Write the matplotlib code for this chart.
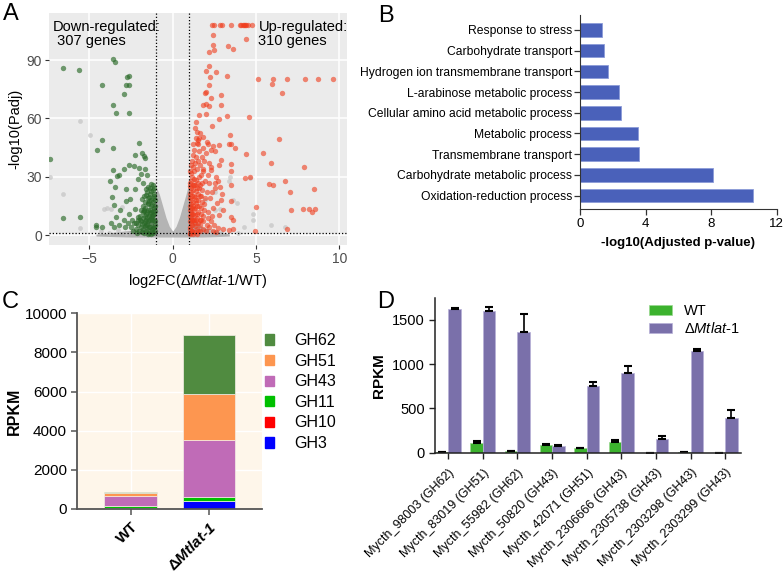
import numpy as np
import matplotlib.pyplot as plt
from matplotlib.patches import Patch

plt.rcParams['font.family'] = ['Liberation Sans', 'DejaVu Sans']
plt.rcParams['mathtext.fontset'] = 'custom'
plt.rcParams['mathtext.rm'] = 'Liberation Sans'
plt.rcParams['mathtext.it'] = 'Liberation Sans:italic'
plt.rcParams['mathtext.bf'] = 'Liberation Sans:bold'
plt.rcParams['mathtext.bfit'] = 'Liberation Sans:italic:bold'

# ---------------- A: volcano ----------------
down_pts = [(-6.6, 86), (-5.6, 85), (-3.6, 90.3), (-3.45, 89), (-2.72, 81.4), (-2.6, 81.6),
            (-4.25, 77.3), (-2.8, 77), (-2.6, 77.4), (-2.9, 72.5), (-3.55, 66.7), (-3.4, 62.9),
            (-2.6, 62.6), (-4.25, 49), (-4.55, 44), (-3.6, 44.7), (-2.0, 47.5), (-7.35, 39),
            (-6.6, 8.6), (-5.55, 9.4), (-4.6, 4.3), (-4.26, 3.9), (-4.62, 5.1),
            (-2.26, 41.2), (-1.82, 42), (-1.7, 40.6), (-1.66, 39.5), (-2.3, 35.6), (-2.0, 34.7),
            (-1.66, 33.8), (-1.88, 31.2), (-1.56, 31), (-3.58, 33.4), (-3.34, 30.3), (-3.22, 30.7),
            (-2.9, 33.8), (-2.62, 35.8), (-3.74, 27.6), (-3.46, 24.8), (-2.78, 23.8), (-2.26, 23.5),
            (-2.1, 28.6), (-1.78, 26.9), (-1.5, 24.8), (-1.3, 26.2), (-3.66, 19.4), (-3.5, 15.4),
            (-2.82, 17.6), (-2.54, 18.4), (-3.18, 12.9), (-3.42, 9.4), (-2.94, 7.7), (-2.62, 10.8),
            (-2.26, 13.5), (-3.7, 6), (-3.54, 4), (-3.22, 5.3), (-2.86, 4.3), (-2.66, 6),
            (-2.42, 7.7), (-2.22, 6), (-2.06, 9.4),
            (-1.05, 2), (-1.08, 5), (-1.1, 8), (-1.12, 11), (-1.1, 14), (-1.15, 17), (-1.12, 20),
            (-1.18, 23), (-1.2, 26), (-1.25, 3), (-1.28, 6), (-1.3, 9), (-1.27, 12), (-1.32, 15),
            (-1.3, 18), (-1.35, 21), (-1.38, 24), (-1.4, 1), (-1.42, 4), (-1.45, 7), (-1.43, 10),
            (-1.48, 13), (-1.46, 16), (-1.5, 19), (-1.55, 22), (-1.6, 2), (-1.58, 5), (-1.62, 8),
            (-1.6, 11), (-1.65, 14), (-1.63, 17), (-1.7, 20), (-1.75, 3), (-1.72, 6), (-1.78, 9),
            (-1.8, 12), (-1.76, 15), (-1.85, 1.5), (-1.9, 4), (-1.88, 7), (-1.95, 10), (-1.92, 13),
            (-2.0, 2), (-2.05, 5), (-2.1, 8), (-2.2, 3), (-2.3, 6), (-2.4, 2), (-2.5, 4),
            (-1.15, 1), (-1.2, 3.5), (-1.25, 7.5), (-1.35, 11.5), (-1.45, 2.5), (-1.55, 9.5),
            (-1.65, 4.5), (-1.7, 12.5), (-1.5, 16.5), (-1.4, 19.5), (-1.3, 22.5), (-1.22, 15.5),
            (-1.18, 10.5), (-1.08, 12.5), (-1.06, 18), (-1.1, 24), (-1.6, 23.5), (-1.85, 18.5),
            (-1.04, 7), (-1.06, 15), (-1.09, 21), (-1.14, 4), (-1.16, 12.5), (-1.2, 19),
            (-1.24, 10), (-1.26, 1.5), (-1.33, 4), (-1.36, 13), (-1.4, 7.5), (-1.44, 17.5),
            (-1.52, 5), (-1.56, 12), (-1.58, 20.5), (-1.66, 7), (-1.68, 10), (-1.74, 13),
            (-1.82, 5.5), (-1.94, 8), (-2.15, 1), (-1.5, 0.8), (-1.7, 1.2), (-1.3, 0.6)]

up_pts = [(2.36, 108), (2.48, 108), (2.87, 108), (2.99, 108), (3.5, 108), (4.03, 108), (4.1, 108),
          (4.2, 108), (4.27, 108), (4.34, 108), (4.43, 108), (4.5, 108), (4.74, 108),
          (4.43, 101), (2.4, 103), (2.44, 97.5), (3.32, 97), (3.64, 95.6), (2.2, 94.3), (2.48, 95),
          (2.2, 87.2), (2.0, 84.5), (2.6, 83.8), (2.24, 81.4), (3.24, 81.8), (5.12, 80.1),
          (6.04, 80.1), (6.88, 80.1), (7.92, 80.1), (8.72, 80.1), (9.6, 80.1), (5.96, 77.7),
          (6.56, 72.9), (2.16, 77), (1.92, 72.9), (2.0, 73.5), (2.28, 70.5), (2.9, 72.2),
          (1.84, 67), (2.0, 67.5), (2.16, 66.3), (2.88, 66.8), (1.6, 61.5), (2.0, 62.2),
          (2.8, 59.8), (3.28, 61), (4.56, 60.9), (6.4, 49.6), (5.44, 42.3), (7.88, 35.1),
          (5.92, 37.2), (4.4, 41.7), (4.64, 30), (4.32, 29.3), (5.8, 26.4), (6.0, 25.7),
          (6.72, 27.7), (8.48, 23.8), (7.04, 22.4), (5.0, 14.2), (7.08, 12.9), (7.84, 13.2),
          (8.16, 13.2), (8.36, 11.8), (8.56, 13.2), (6.84, 3.1), (4.96, 2.1), (3.44, 51.6),
          (3.52, 47), (3.72, 45), (3.5, 36.8), (3.48, 33), (3.52, 25.7), (3.52, 17.5),
          (2.36, 56.1), (1.64, 52.6), (1.84, 50.6), (1.52, 48.9), (1.44, 47.2), (2.04, 47.8),
          (2.44, 45.8), (2.8, 46.1), (2.28, 43.7), (2.52, 43), (2.88, 38.6), (2.76, 36.2),
          (2.2, 36.9), (2.32, 33.4), (1.8, 34.1), (3.36, 46.8), (2.6, 29.7), (2.56, 26.6),
          (2.84, 24.5), (2.96, 21.1), (2.88, 18), (2.36, 22.1), (2.64, 16.3), (3.04, 12.9),
          (2.8, 10.1), (3.48, 9.1), (3.64, 7.7), (3.04, 3.2), (3.36, 2.6), (3.6, 3.2),
          (1.02, 1), (1.05, 4), (1.03, 7), (1.06, 10), (1.04, 13), (1.08, 16), (1.05, 19),
          (1.1, 22), (1.07, 25), (1.12, 28), (1.15, 2), (1.18, 5), (1.14, 8), (1.2, 11),
          (1.16, 14), (1.22, 17), (1.18, 20), (1.24, 23), (1.2, 26), (1.26, 29), (1.3, 1.5),
          (1.32, 4.5), (1.28, 7.5), (1.35, 10.5), (1.3, 13.5), (1.38, 16.5), (1.33, 19.5),
          (1.4, 22.5), (1.36, 25.5), (1.42, 28.5), (1.45, 3), (1.5, 6), (1.47, 9), (1.52, 12),
          (1.48, 15), (1.55, 18), (1.5, 21), (1.58, 24), (1.54, 27), (1.6, 30), (1.62, 2),
          (1.66, 5), (1.64, 8), (1.7, 11), (1.68, 14), (1.74, 17), (1.72, 20), (1.78, 23),
          (1.8, 3), (1.85, 7), (1.82, 10), (1.9, 13), (1.88, 16), (1.95, 19), (2.0, 2),
          (2.05, 5), (2.1, 9), (2.15, 12), (2.2, 4), (2.3, 7), (2.4, 2), (2.5, 5), (2.6, 1.5),
          (2.7, 3.5), (1.12, 32), (1.2, 35), (1.15, 38), (1.25, 41), (1.3, 33), (1.35, 37),
          (1.28, 44), (1.4, 40), (1.45, 34), (1.5, 47), (1.38, 50), (1.55, 38), (1.6, 43),
          (1.48, 53), (1.65, 36), (1.7, 31), (1.75, 40), (1.8, 45), (1.85, 33), (1.9, 38),
          (1.95, 28), (2.0, 42), (2.1, 31), (2.2, 27), (2.3, 35), (1.22, 47), (1.32, 55),
          (1.42, 58), (1.6, 50), (1.75, 27), (2.05, 22), (2.25, 19), (2.45, 14), (2.35, 10),
          (2.55, 24), (2.7, 28), (2.15, 47), (1.1, 12), (1.25, 15), (1.12, 6), (1.4, 8),
          (1.02, 15), (1.04, 21), (1.03, 27), (1.06, 3), (1.08, 9), (1.1, 18), (1.12, 24),
          (1.14, 30), (1.06, 33), (1.09, 36), (1.16, 11), (1.18, 2), (1.22, 8), (1.26, 20),
          (1.28, 26), (1.34, 6), (1.36, 14), (1.4, 18), (1.44, 24), (1.46, 11), (1.52, 2),
          (1.56, 15), (1.62, 26), (1.66, 20), (1.72, 8), (1.04, 0.5), (1.24, 0.8), (1.44, 0.6)]

ns_pts = [(-5.58, 58.8), (-4.98, 51.4), (-6.58, 21.1), (-7.38, 30), (-4.1, 13.5), (-3.96, 14),
          (-3.7, 13.6), (-3.06, 14.2), (-5.58, 3.4), (4.64, 29.3), (4.84, 10.8), (4.8, 7.7),
          (4.28, 4), (5.88, 5), (3.84, 16.6), (3.64, 18), (3.4, 27.9), (2.52, 12.9), (2.84, 13.2),
          (2.56, 22.1), (1.96, 18), (3.44, 30), (6.76, 4.3), (-4.3, 2), (-3.8, 1), (-3.3, 2.5),
          (-2.8, 1.2), (2.3, 2.2), (2.9, 1.5), (3.9, 1)]

# grey cloud of non-significant genes (envelope)
cloud_x = [-4.6, -3.5, -2.5, -1.8, -1.4, -1.1, -0.95, -0.8, -0.6, -0.4, -0.2, 0.0,
           0.2, 0.4, 0.6, 0.8, 0.95, 1.05, 1.3, 1.8, 2.6, 3.4]
cloud_top = [0.5, 1.5, 2.5, 4, 9, 18, 24, 21, 15, 9, 4.5, 2,
             4.5, 9, 15, 21, 26, 20, 8, 4, 2.5, 0.5]
cloud_bot = [-0.5, -0.8, -1, -1, -1, -1, -1, -1, -1, -1, -1, -1,
             -1, -1, -1, -1, -1, -1, -1, -1, -0.8, -0.5]

# ---------------- B: GO enrichment ----------------
go_terms = ['Oxidation-reduction process', 'Carbohydrate metabolic process',
            'Transmembrane transport', 'Metabolic process',
            'Cellular amino acid metabolic process', 'L-arabinose metabolic process',
            'Hydrogen ion transmembrane transport', 'Carbohydrate transport',
            'Response to stress']
go_vals = [10.57, 8.09, 3.62, 3.52, 2.52, 2.38, 1.73, 1.46, 1.34]

# ---------------- C: stacked RPKM ----------------
strains = ['WT', 'Δ$\\mathbfit{Mtlat}$-$\\mathbfit{1}$']
gh_fams = ['GH3', 'GH10', 'GH11', 'GH43', 'GH51', 'GH62']
gh_cols = ['#0000FF', '#FF0000', '#00C000', '#C06BB7', '#FD9650', '#508B40']
gh_wt = [20, 50, 100, 510, 150, 35]
gh_mut = [390, 35, 170, 2940, 2340, 3005]

# ---------------- D: gene RPKM ----------------
genes = ['Mycth_98003 (GH62)', 'Mycth_83019 (GH51)', 'Mycth_55982 (GH62)',
         'Mycth_50820 (GH43)', 'Mycth_42071 (GH51)', 'Mycth_2306666 (GH43)',
         'Mycth_2305738 (GH43)', 'Mycth_2303298 (GH43)', 'Mycth_2303299 (GH43)']
wt_rpkm = [8, 113, 15, 83, 49, 121, 0, 11, 0]
wt_err = [2, 19, 5, 19, 7, 26, 0, 2, 0]
mut_rpkm = [1622, 1599, 1362, 75, 753, 900, 151, 1148, 395]
mut_err = [15, 45, 200, 8, 48, 82, 37, 26, 83]

fig = plt.figure(figsize=(7.84, 5.73), dpi=100)
W, H = 784, 573

def box(l, t, r, b):
    return [l / W, 1 - b / H, (r - l) / W, (b - t) / H]

# ----- A -----
ax = fig.add_axes(box(49, 13, 347, 245))
ax.set_facecolor('#EBEBEB')
ax.grid(color='white', lw=1.1)
ax.set_axisbelow(True)
for s in ax.spines.values():
    s.set_visible(False)
ax.fill_between(cloud_x, cloud_bot, cloud_top, color='#B4B4B4', lw=0, zorder=2)
ns = np.array(ns_pts)
ax.scatter(ns[:, 0], ns[:, 1], s=12, color='#C4C4C4', alpha=0.7, lw=0, zorder=3)
dn = np.array(down_pts)
ax.scatter(dn[:, 0], dn[:, 1], s=15, color='#2A6A28', alpha=0.65, lw=0, zorder=4)
up = np.array(up_pts)
ax.scatter(up[:, 0], up[:, 1], s=15, color='#F03C1C', alpha=0.6, lw=0, zorder=4)
ax.axvline(-1, color='black', lw=0.9, ls=(0, (1, 1.6)), zorder=5)
ax.axvline(1, color='black', lw=0.9, ls=(0, (1, 1.6)), zorder=5)
ax.axhline(1.3, color='black', lw=0.9, ls=(0, (1, 1.6)), zorder=5)
ax.set_xlim(-7.42, 10.46)
ax.set_ylim(-5.1, 114.2)
ax.set_xticks([-5, 0, 5, 10])
ax.set_xticklabels(['−5', '0', '5', '10'])
ax.set_yticks([0, 30, 60, 90])
ax.tick_params(labelsize=10, labelcolor='#4D4D4D', color='#333333', length=3, width=0.8, pad=2)
ax.set_xlabel('log2FC(Δ$\\mathit{Mtlat}$-$\\mathit{1}$/WT)', fontsize=10.5, labelpad=4)
ax.set_ylabel('-log10(Padj)', fontsize=10.5, labelpad=3)
ax.text(-7.2, 110.5, 'Down-regulated:\n 307 genes', fontsize=10.5, va='top', ha='left',
        linespacing=1.0, zorder=6)
ax.text(5.15, 110.5, 'Up-regulated:\n310 genes', fontsize=10.5, va='top', ha='left',
        linespacing=1.0, zorder=6)

# ----- B -----
ax = fig.add_axes(box(580, 15, 776.7, 209.3))
ypos = np.arange(len(go_terms))
ax.barh(ypos, go_vals, height=0.65, color='#4A61BA', edgecolor='#8C9BD8', lw=0.6)
ax.set_yticks(ypos)
ax.set_yticklabels(go_terms)
ax.set_xlim(0, 12)
ax.set_ylim(-0.66, 8.72)
ax.set_xticks([0, 4, 8, 12])
ax.spines['top'].set_visible(False)
ax.spines['right'].set_visible(False)
ax.spines['left'].set_color('#333333')
ax.spines['bottom'].set_color('#333333')
ax.tick_params(labelsize=8.7, length=4, width=0.9, color='#333333', pad=1.5)
ax.tick_params(axis='x', labelsize=9.5, pad=2)
ax.set_xlabel('-log10(Adjusted p-value)', fontsize=9.5, fontweight='bold', labelpad=5)

# ----- C -----
ax = fig.add_axes(box(77.3, 313.3, 261.7, 509))
ax.set_facecolor('#FEF6EA')
ax.grid(color='white', lw=1.0)
ax.set_axisbelow(True)
xc = np.arange(len(strains))
bottom = np.zeros(len(strains))
handles = []
for fam, col, a, b in zip(gh_fams, gh_cols, gh_wt, gh_mut):
    vals = np.array([a, b])
    ax.bar(xc, vals, bottom=bottom, width=0.668, color=col, edgecolor='#F5EEE6', lw=0.5)
    bottom += vals
    handles.append(Patch(color=col, label=fam))
ax.set_xlim(-0.68, 1.676)
ax.set_ylim(0, 10000)
ax.set_yticks([0, 2000, 4000, 6000, 8000, 10000])
ax.set_xticks(xc)
ax.set_xticklabels(strains, rotation=45, ha='right', rotation_mode='anchor',
                   fontweight='bold', fontsize=11)
for s in ['top', 'right']:
    ax.spines[s].set_visible(False)
for s in ['left', 'bottom']:
    ax.spines[s].set_color('#555555')
    ax.spines[s].set_linewidth(1.3)
ax.tick_params(labelsize=11, length=4, width=1.1, color='#555555')
ax.set_ylabel('RPKM', fontsize=11.5, fontweight='bold', labelpad=2)
ax.legend(handles=handles[::-1], loc='upper left', bbox_to_anchor=(1.0, 0.915),
          frameon=False, fontsize=11.5, handlelength=0.6, handleheight=0.6,
          handletextpad=1.25, labelspacing=0.35, borderaxespad=0, borderpad=0.2)

# ----- D -----
ax = fig.add_axes(box(435, 298.3, 740.7, 452.7))
xd = np.arange(len(genes))
bw = 0.36
ax.bar(xd - bw / 2, wt_rpkm, width=bw, color='#3CB22E', edgecolor='#9AD890', lw=0.5,
       yerr=[np.zeros(len(genes)), wt_err], error_kw=dict(ecolor='black', elinewidth=1.2,
       capsize=3, capthick=1.5), label='WT')
ax.bar(xd + bw / 2, mut_rpkm, width=bw, color='#7A70AA', edgecolor='#B7B0D8', lw=0.5,
       yerr=[np.zeros(len(genes)), mut_err], error_kw=dict(ecolor='black', elinewidth=1.2,
       capsize=3, capthick=1.5), label='Δ$\\mathit{Mtlat}$-$\\mathit{1}$')
ax.set_xlim(-0.384, 8.45)
ax.set_ylim(0, 1742)
ax.set_yticks([0, 500, 1000, 1500])
ax.set_xticks(xd)
ax.set_xticklabels(genes, rotation=45, ha='right', rotation_mode='anchor', fontsize=9)
for s in ['top', 'right']:
    ax.spines[s].set_visible(False)
for s in ['left', 'bottom']:
    ax.spines[s].set_color('#222222')
    ax.spines[s].set_linewidth(1.1)
ax.tick_params(length=4, width=1.0, color='#222222')
ax.tick_params(axis='x', pad=6)
ax.tick_params(axis='y', labelsize=10.5)
ax.set_ylabel('RPKM', fontsize=11, fontweight='bold', labelpad=4)
ax.legend(loc='upper left', bbox_to_anchor=(0.70, 0.96), frameon=False, fontsize=10.5,
          handlelength=1.6, handleheight=0.65, handletextpad=0.8, labelspacing=0.2,
          borderaxespad=0, borderpad=0)

# panel letters
for lbl, x, y in [('A', 3, 3), ('B', 378, 5), ('C', 2, 291), ('D', 377, 291)]:
    fig.text(x / W, 1 - y / H, lbl, fontsize=17, va='top', ha='left')

fig.savefig('out.png', dpi=100)
